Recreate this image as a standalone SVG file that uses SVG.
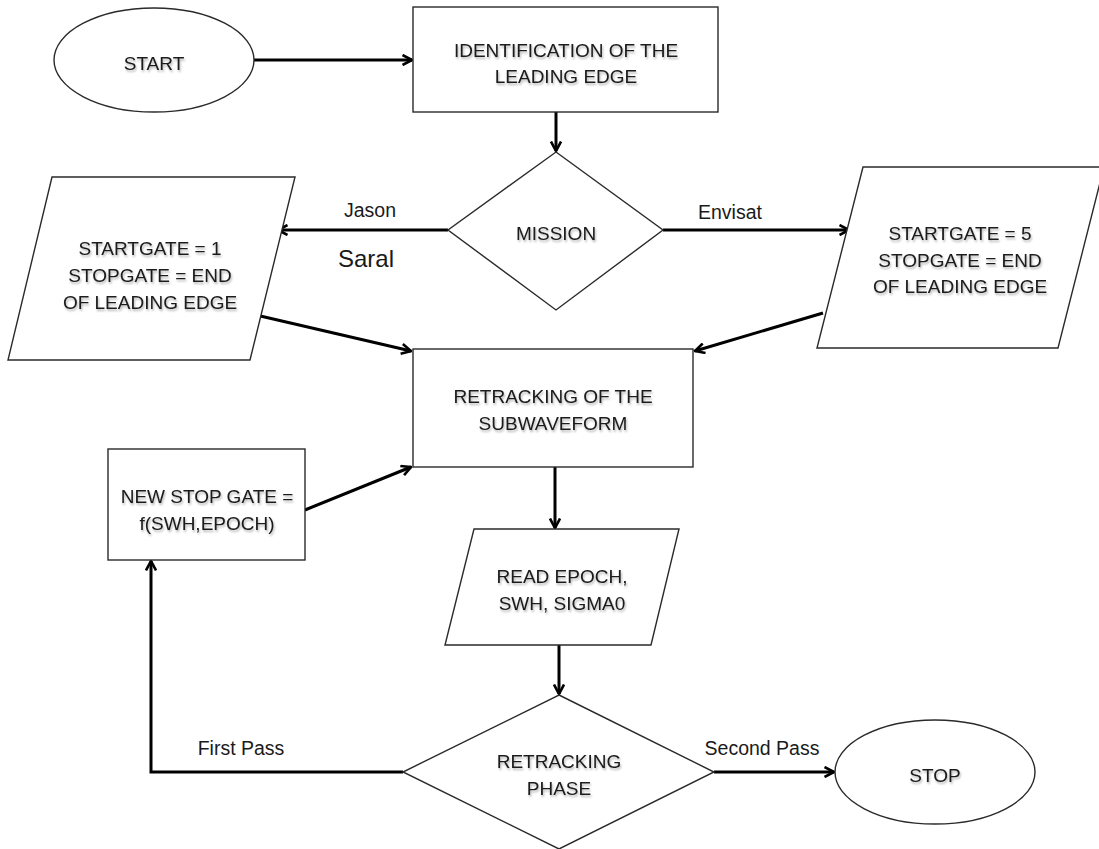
<svg xmlns="http://www.w3.org/2000/svg" width="1099" height="849" viewBox="0 0 1099 849">
<style>
.shape{fill:#fff;stroke:#2a2a2a;stroke-width:1.4}
.t{font-family:"Liberation Sans",Arial,sans-serif;font-size:19px;fill:#1a1a1a;text-anchor:middle;filter:url(#sh)}
.lbl{font-family:"Liberation Sans",Arial,sans-serif;font-size:19.5px;fill:#1a1a1a;text-anchor:middle}
.big{font-size:24px}
.c{fill:none;stroke:#000;stroke-width:3;marker-end:url(#ah)}
</style>
<defs>
<filter id="sh" x="-10%" y="-30%" width="120%" height="170%">
<feDropShadow dx="1" dy="2" stdDeviation="1.2" flood-color="#000" flood-opacity="0.3"/>
</filter>
<marker id="ah" viewBox="0 0 12 12" refX="10.5" refY="6" markerWidth="12" markerHeight="12" markerUnits="userSpaceOnUse" orient="auto">
<path d="M1,1 L10.5,6 L1,11" fill="none" stroke="#000" stroke-width="2.6"/>
</marker>
</defs>
<rect width="1099" height="849" fill="#fff"/>

<g id="connectors">
<line class="c" x1="254" y1="60" x2="412" y2="60"/>
<line class="c" x1="556" y1="112" x2="556" y2="151"/>
<line class="c" x1="448" y1="230" x2="278" y2="230"/>
<line class="c" x1="663" y1="230" x2="849" y2="230"/>
<line class="c" x1="256" y1="315" x2="411" y2="351"/>
<line class="c" x1="823" y1="313" x2="695" y2="351"/>
<line class="c" x1="305" y1="510" x2="411" y2="467"/>
<line class="c" x1="555" y1="467" x2="555" y2="528"/>
<line class="c" x1="559" y1="637" x2="559" y2="694"/>
<polyline class="c" points="403,772 151,772 151,561" stroke-linejoin="miter"/>
<line class="c" x1="714" y1="772" x2="834" y2="772"/>
</g>

<g id="labels">
<text class="lbl" x="370" y="217">Jason</text>
<text class="lbl big" x="366" y="267">Saral</text>
<text class="lbl" x="730" y="219">Envisat</text>
<text class="lbl" x="241" y="755">First Pass</text>
<text class="lbl" x="762" y="755">Second Pass</text>
</g>

<g id="start">
<ellipse class="shape" cx="154" cy="60" rx="100" ry="52"/>
<text class="t" x="154" y="70">START</text>
</g>

<g id="identification">
<rect class="shape" x="413" y="7" width="305" height="105"/>
<text class="t" x="566" y="57">IDENTIFICATION OF THE</text>
<text class="t" x="566" y="83">LEADING EDGE</text>
</g>

<g id="mission">
<polygon class="shape" points="556,152 663,230 556,310 448,230"/>
<text class="t" x="556" y="240">MISSION</text>
</g>

<g id="jason-gates">
<polygon class="shape" points="52,177 295,177 250,360 8,360"/>
<text class="t" x="150" y="255">STARTGATE = 1</text>
<text class="t" x="150" y="282">STOPGATE = END</text>
<text class="t" x="150" y="309">OF LEADING EDGE</text>
</g>

<g id="envisat-gates">
<polygon class="shape" points="863,167 1104,167 1058,348 817,348"/>
<text class="t" x="960" y="240">STARTGATE = 5</text>
<text class="t" x="960" y="267">STOPGATE = END</text>
<text class="t" x="960" y="293">OF LEADING EDGE</text>
</g>

<g id="retracking">
<rect class="shape" x="413" y="349" width="280" height="118"/>
<text class="t" x="553" y="403">RETRACKING OF THE</text>
<text class="t" x="553" y="430">SUBWAVEFORM</text>
</g>

<g id="new-stop-gate">
<rect class="shape" x="108" y="449" width="197" height="111"/>
<text class="t" x="207" y="503">NEW STOP GATE =</text>
<text class="t" x="207" y="530">f(SWH,EPOCH)</text>
</g>

<g id="read-epoch">
<polygon class="shape" points="474,529 679,529 651,645 445,645"/>
<text class="t" x="562" y="583">READ EPOCH,</text>
<text class="t" x="562" y="610">SWH, SIGMA0</text>
</g>

<g id="retracking-phase">
<polygon class="shape" points="559,695 714,772 559,849 403,772"/>
<text class="t" x="559" y="768">RETRACKING</text>
<text class="t" x="559" y="795">PHASE</text>
</g>

<g id="stop">
<ellipse class="shape" cx="935" cy="772" rx="100" ry="52"/>
<text class="t" x="935" y="782">STOP</text>
</g>
</svg>
